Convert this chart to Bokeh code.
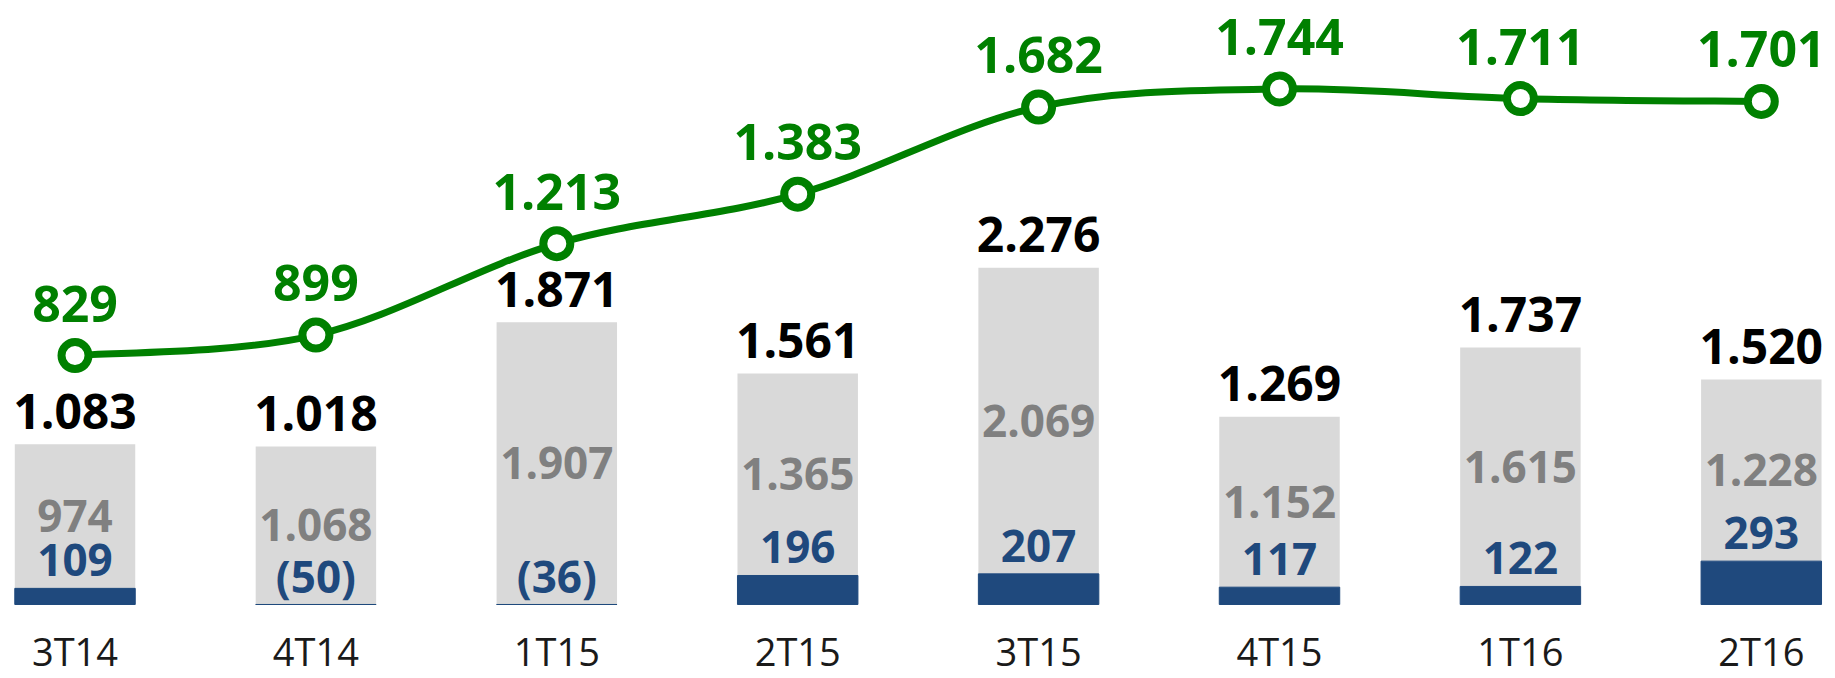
from bokeh.plotting import figure
from bokeh.models import Range1d, ColumnDataSource
from bokeh.core.properties import value
from bokeh.embed import file_html
from bokeh.resources import INLINE

# ---- data ----
categories = ["3T14", "4T14", "1T15", "2T15", "3T15", "4T15", "1T16", "2T16"]
blue_vals = [109, -50, -36, 196, 207, 117, 122, 293]
gray_vals = [974, 1068, 1907, 1365, 2069, 1152, 1615, 1228]
total_vals = [1083, 1018, 1871, 1561, 2276, 1269, 1737, 1520]
line_vals = [829, 899, 1213, 1383, 1682, 1744, 1711, 1701]

GREEN = "#008000"
BLUE = "#1F497D"
GRAY_BAR = "#D9D9D9"
GRAY_TXT = "#808080"


def fmt(v):
    s = f"{abs(v):,}".replace(",", ".")
    return f"({s})" if v < 0 else s


xs = list(range(len(categories)))
blue_top = [max(b, 0) for b in blue_vals]
gray_top = [bt + g for bt, g in zip(blue_top, gray_vals)]
gray_mid = [(bt + gt) / 2 for bt, gt in zip(blue_top, gray_top)]

src = ColumnDataSource(dict(
    x=xs, cat=categories,
    blue_top=blue_top, gray_top=gray_top, gray_mid=gray_mid,
    blue_lbl=[fmt(v) for v in blue_vals],
    gray_lbl=[fmt(v) for v in gray_vals],
    total_lbl=[fmt(v) for v in total_vals],
    line=line_vals, line_lbl=[fmt(v) for v in line_vals],
))

p = figure(width=1835, height=678,
           x_range=Range1d(-0.3093, 7.308), y_range=Range1d(-500, 4081),
           x_axis_type=None, y_axis_type=None,
           output_backend="svg", toolbar_location=None,
           min_border=0, outline_line_color=None, background_fill_color="white")
p.extra_y_ranges = {"green": Range1d(-279.8, 2047.7)}

# bars
p.vbar(x="x", width=0.5, bottom="blue_top", top="gray_top", source=src,
       fill_color=GRAY_BAR, line_color=None)
p.vbar(x="x", width=0.5, bottom=0, top="blue_top", source=src,
       fill_color=BLUE, line_color=BLUE, line_width=1)

# smoothed green line (bezier segments built from the data points)
n = len(line_vals)
P = list(zip(xs, line_vals))
bx0, by0, bx1, by1, cx0, cy0, cx1, cy1 = [], [], [], [], [], [], [], []
for i in range(n - 1):
    p0 = P[max(i - 1, 0)]
    p1 = P[i]
    p2 = P[i + 1]
    p3 = P[min(i + 2, n - 1)]
    bx0.append(p1[0]); by0.append(p1[1])
    bx1.append(p2[0]); by1.append(p2[1])
    cx0.append(p1[0] + (p2[0] - p0[0]) / 6); cy0.append(p1[1] + (p2[1] - p0[1]) / 6)
    cx1.append(p2[0] - (p3[0] - p1[0]) / 6); cy1.append(p2[1] - (p3[1] - p1[1]) / 6)
p.bezier(x0=bx0, y0=by0, x1=bx1, y1=by1, cx0=cx0, cy0=cy0, cx1=cx1, cy1=cy1,
         line_color=GREEN, line_width=7, y_range_name="green")
p.scatter(x="x", y="line", source=src, size=27, fill_color="white",
          line_color=GREEN, line_width=8, y_range_name="green")

BOLD_FONT = value("Open Sans")

# labels
p.text(x="x", y="gray_top", text="total_lbl", source=src, y_offset=-33,
       text_align="center", text_baseline="alphabetic", text_font=BOLD_FONT,
       text_font_style="bold", text_font_size="48px", text_color="black")
p.text(x="x", y="gray_mid", text="gray_lbl", source=src, y_offset=0,
       text_align="center", text_baseline="alphabetic", text_font=BOLD_FONT,
       text_font_style="bold", text_font_size="44px", text_color=GRAY_TXT)
p.text(x="x", y="blue_top", text="blue_lbl", source=src, y_offset=-28,
       text_align="center", text_baseline="alphabetic", text_font=BOLD_FONT,
       text_font_style="bold", text_font_size="44px", text_color=BLUE)
p.text(x="x", y="line", text="line_lbl", source=src, y_offset=-52,
       y_range_name="green",
       text_align="center", text_baseline="alphabetic", text_font=BOLD_FONT,
       text_font_style="bold", text_font_size="50px", text_color=GREEN)
p.text(x="x", y=0, text="cat", source=src, y_offset=47,
       text_align="center", text_baseline="middle",
       text_font=value("Open Sans"),
       text_font_size="38px", text_color="#1a1a1a")

open("out.html", "w").write(file_html(p, INLINE))
